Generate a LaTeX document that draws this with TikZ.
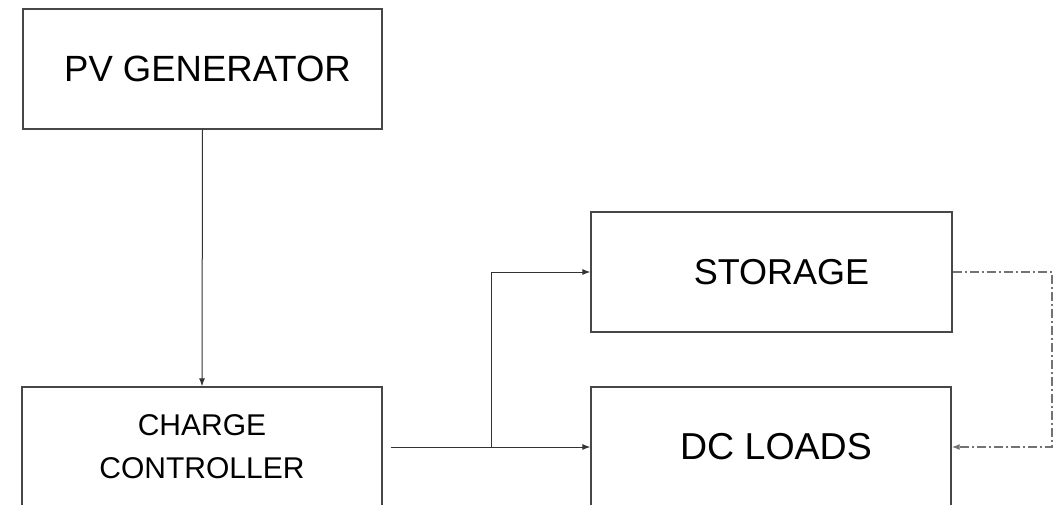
\documentclass[tikz,border=0pt]{standalone}
\usepackage{fontspec}
\setmainfont{Liberation Sans}
\usetikzlibrary{arrows.meta}
\begin{document}
\begin{tikzpicture}[x=1pt,y=-1pt,
  box/.style={draw=black!72, line width=1.3pt, inner sep=0pt, align=center, text=black},
  conn/.style={draw=black!80, line width=1pt, -{Latex[length=8pt,width=6pt]}},
  dashconn/.style={draw=black!55, line width=1.3pt, dash pattern=on 9pt off 3pt on 2pt off 3pt, -{Latex[length=8pt,width=6pt]}}]
\useasboundingbox (0,0) rectangle (1063,505);
\clip (0,0) rectangle (1063,505);
\node[box, minimum width=359pt, minimum height=120pt, font=\fontsize{36.5}{40}\selectfont] (pv) at (202.5,69) {\raisebox{-3pt}{\hspace*{10pt}PV GENERATOR}};
\node[box, minimum width=360pt, minimum height=120pt, font=\fontsize{30}{43}\selectfont] (cc) at (202,447) {CHARGE\\CONTROLLER};
\node[box, minimum width=361pt, minimum height=120pt, font=\fontsize{36}{40}\selectfont] (st) at (771.5,272) {\hspace*{20pt}STORAGE};
\node[box, minimum width=360pt, minimum height=120pt, font=\fontsize{37.5}{40}\selectfont] (dc) at (771,447) {\raisebox{-4pt}{\hspace*{10pt}DC LOADS}};
\coordinate (j) at (491,447);
\coordinate (r) at (1052,272);
\draw[conn] (pv.south) -- (cc.north);
\draw[conn, shorten <=8pt] (cc.east) -- (dc.west);
\draw[conn] (j) |- (st.west);
\draw[dashconn] (st.east) -- (r) |- (dc.east);
\end{tikzpicture}
\end{document}
